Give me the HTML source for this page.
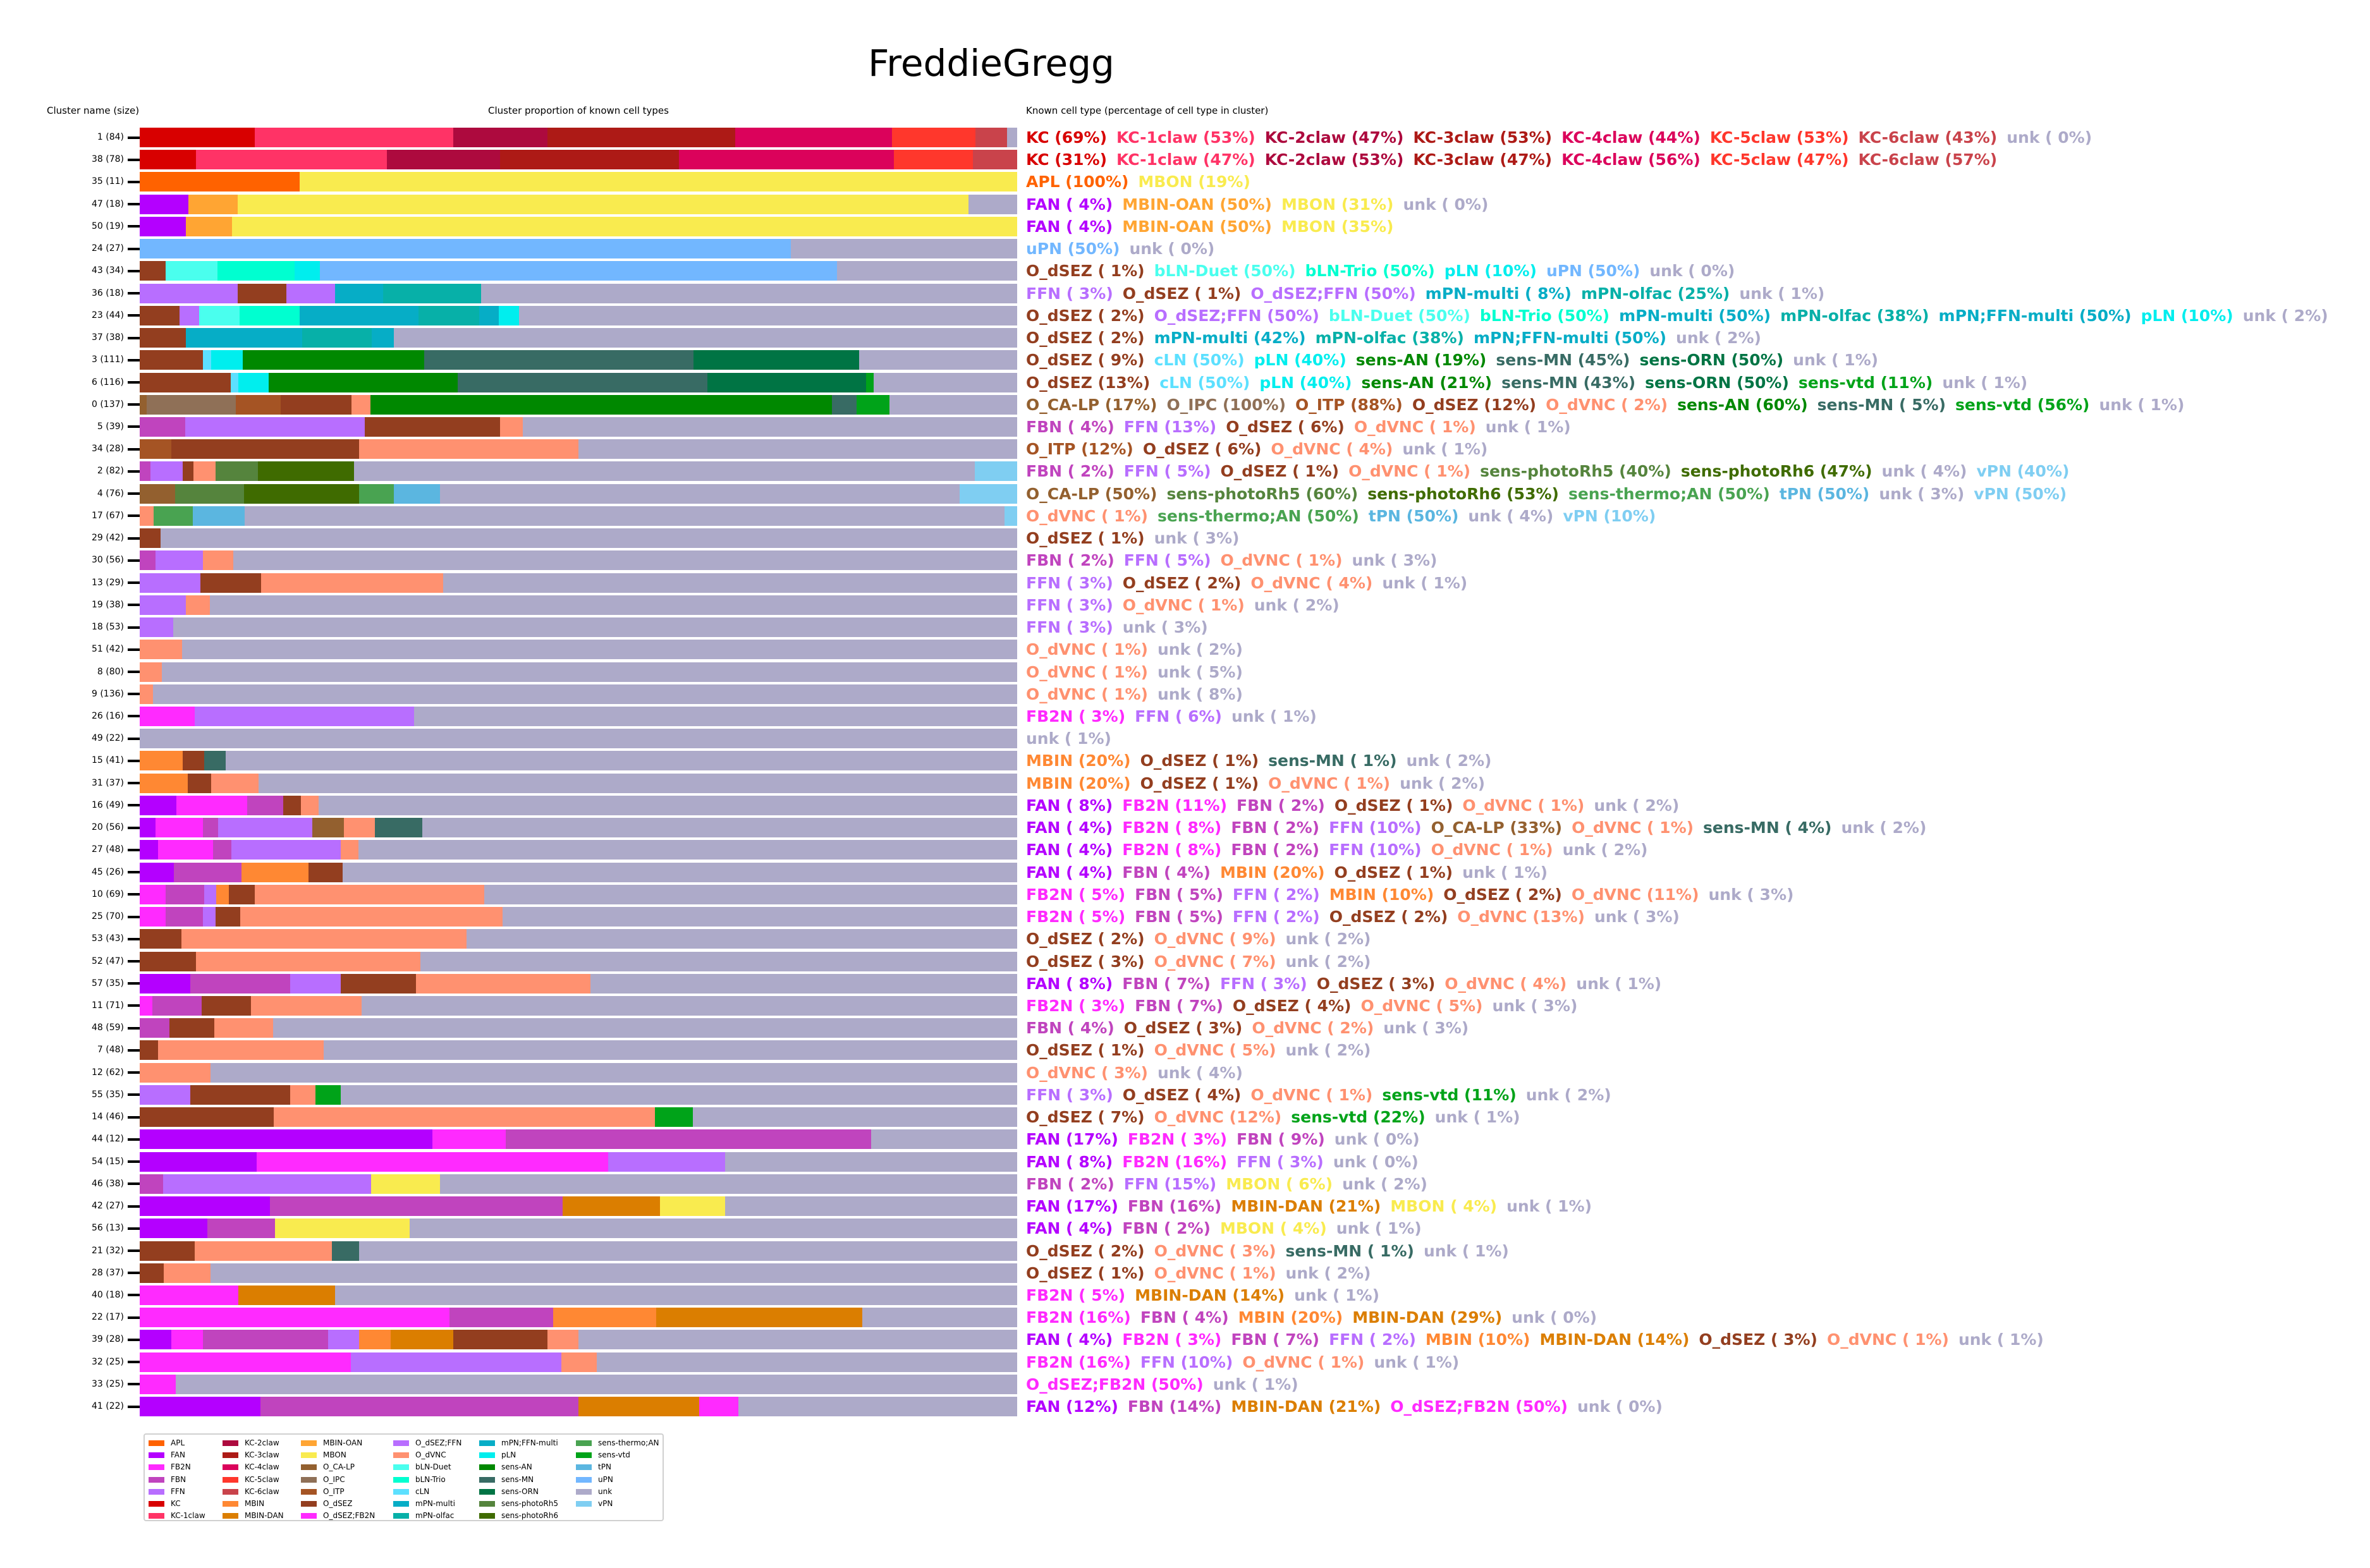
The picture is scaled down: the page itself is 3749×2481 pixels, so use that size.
<!DOCTYPE html>
<html><head><meta charset="utf-8">
<style>
html,body{margin:0;padding:0;background:#fff;}
body{width:3749px;height:2481px;position:relative;overflow:hidden;font-family:"DejaVu Sans","Liberation Sans",sans-serif;}
.title{position:absolute;left:0;width:3136px;top:66px;text-align:center;font-size:58px;color:#000;}
.hdr{position:absolute;font-size:15px;color:#000;white-space:nowrap;top:166px;}
.lbl{position:absolute;left:0;width:196px;text-align:right;font-size:14px;line-height:31px;color:#000;}
.tick{position:absolute;left:202px;width:19px;height:4px;background:#000;}
.bar{position:absolute;left:221px;width:1388px;height:31px;display:flex;}
.bar div{height:100%;}
.t{position:absolute;left:1623px;line-height:31px;font-size:25px;font-weight:bold;white-space:pre;}
.t span{margin-right:15px;}
.legend{position:absolute;left:227px;top:2268px;width:819px;height:135px;border:2px solid #d0d0d0;border-radius:4px;background:#fff;}
.li{position:absolute;font-size:12px;line-height:12px;white-space:nowrap;}
.li b{display:inline-block;width:25px;height:9px;margin-right:10px;vertical-align:-1px;}
</style></head><body>
<div class="title">FreddieGregg</div>
<div class="hdr" style="left:74px">Cluster name (size)</div>
<div class="hdr" style="left:772px">Cluster proportion of known cell types</div>
<div class="hdr" style="left:1623px">Known cell type (percentage of cell type in cluster)</div>
<div id="rows"></div>

<div id="texts">
<div class="t"><span>KC (69%)</span><span>KC-1claw (53%)</span><span>KC-2claw (47%)</span><span>KC-3claw (53%)</span><span>KC-4claw (44%)</span><span>KC-5claw (53%)</span><span>KC-6claw (43%)</span><span>unk ( 0%)</span></div>
<div class="t"><span>KC (31%)</span><span>KC-1claw (47%)</span><span>KC-2claw (53%)</span><span>KC-3claw (47%)</span><span>KC-4claw (56%)</span><span>KC-5claw (47%)</span><span>KC-6claw (57%)</span></div>
<div class="t"><span>APL (100%)</span><span>MBON (19%)</span></div>
<div class="t"><span>FAN ( 4%)</span><span>MBIN-OAN (50%)</span><span>MBON (31%)</span><span>unk ( 0%)</span></div>
<div class="t"><span>FAN ( 4%)</span><span>MBIN-OAN (50%)</span><span>MBON (35%)</span></div>
<div class="t"><span>uPN (50%)</span><span>unk ( 0%)</span></div>
<div class="t"><span>O_dSEZ ( 1%)</span><span>bLN-Duet (50%)</span><span>bLN-Trio (50%)</span><span>pLN (10%)</span><span>uPN (50%)</span><span>unk ( 0%)</span></div>
<div class="t"><span>FFN ( 3%)</span><span>O_dSEZ ( 1%)</span><span>O_dSEZ;FFN (50%)</span><span>mPN-multi ( 8%)</span><span>mPN-olfac (25%)</span><span>unk ( 1%)</span></div>
<div class="t"><span>O_dSEZ ( 2%)</span><span>O_dSEZ;FFN (50%)</span><span>bLN-Duet (50%)</span><span>bLN-Trio (50%)</span><span>mPN-multi (50%)</span><span>mPN-olfac (38%)</span><span>mPN;FFN-multi (50%)</span><span>pLN (10%)</span><span>unk ( 2%)</span></div>
<div class="t"><span>O_dSEZ ( 2%)</span><span>mPN-multi (42%)</span><span>mPN-olfac (38%)</span><span>mPN;FFN-multi (50%)</span><span>unk ( 2%)</span></div>
<div class="t"><span>O_dSEZ ( 9%)</span><span>cLN (50%)</span><span>pLN (40%)</span><span>sens-AN (19%)</span><span>sens-MN (45%)</span><span>sens-ORN (50%)</span><span>unk ( 1%)</span></div>
<div class="t"><span>O_dSEZ (13%)</span><span>cLN (50%)</span><span>pLN (40%)</span><span>sens-AN (21%)</span><span>sens-MN (43%)</span><span>sens-ORN (50%)</span><span>sens-vtd (11%)</span><span>unk ( 1%)</span></div>
<div class="t"><span>O_CA-LP (17%)</span><span>O_IPC (100%)</span><span>O_ITP (88%)</span><span>O_dSEZ (12%)</span><span>O_dVNC ( 2%)</span><span>sens-AN (60%)</span><span>sens-MN ( 5%)</span><span>sens-vtd (56%)</span><span>unk ( 1%)</span></div>
<div class="t"><span>FBN ( 4%)</span><span>FFN (13%)</span><span>O_dSEZ ( 6%)</span><span>O_dVNC ( 1%)</span><span>unk ( 1%)</span></div>
<div class="t"><span>O_ITP (12%)</span><span>O_dSEZ ( 6%)</span><span>O_dVNC ( 4%)</span><span>unk ( 1%)</span></div>
<div class="t"><span>FBN ( 2%)</span><span>FFN ( 5%)</span><span>O_dSEZ ( 1%)</span><span>O_dVNC ( 1%)</span><span>sens-photoRh5 (40%)</span><span>sens-photoRh6 (47%)</span><span>unk ( 4%)</span><span>vPN (40%)</span></div>
<div class="t"><span>O_CA-LP (50%)</span><span>sens-photoRh5 (60%)</span><span>sens-photoRh6 (53%)</span><span>sens-thermo;AN (50%)</span><span>tPN (50%)</span><span>unk ( 3%)</span><span>vPN (50%)</span></div>
<div class="t"><span>O_dVNC ( 1%)</span><span>sens-thermo;AN (50%)</span><span>tPN (50%)</span><span>unk ( 4%)</span><span>vPN (10%)</span></div>
<div class="t"><span>O_dSEZ ( 1%)</span><span>unk ( 3%)</span></div>
<div class="t"><span>FBN ( 2%)</span><span>FFN ( 5%)</span><span>O_dVNC ( 1%)</span><span>unk ( 3%)</span></div>
<div class="t"><span>FFN ( 3%)</span><span>O_dSEZ ( 2%)</span><span>O_dVNC ( 4%)</span><span>unk ( 1%)</span></div>
<div class="t"><span>FFN ( 3%)</span><span>O_dVNC ( 1%)</span><span>unk ( 2%)</span></div>
<div class="t"><span>FFN ( 3%)</span><span>unk ( 3%)</span></div>
<div class="t"><span>O_dVNC ( 1%)</span><span>unk ( 2%)</span></div>
<div class="t"><span>O_dVNC ( 1%)</span><span>unk ( 5%)</span></div>
<div class="t"><span>O_dVNC ( 1%)</span><span>unk ( 8%)</span></div>
<div class="t"><span>FB2N ( 3%)</span><span>FFN ( 6%)</span><span>unk ( 1%)</span></div>
<div class="t"><span>unk ( 1%)</span></div>
<div class="t"><span>MBIN (20%)</span><span>O_dSEZ ( 1%)</span><span>sens-MN ( 1%)</span><span>unk ( 2%)</span></div>
<div class="t"><span>MBIN (20%)</span><span>O_dSEZ ( 1%)</span><span>O_dVNC ( 1%)</span><span>unk ( 2%)</span></div>
<div class="t"><span>FAN ( 8%)</span><span>FB2N (11%)</span><span>FBN ( 2%)</span><span>O_dSEZ ( 1%)</span><span>O_dVNC ( 1%)</span><span>unk ( 2%)</span></div>
<div class="t"><span>FAN ( 4%)</span><span>FB2N ( 8%)</span><span>FBN ( 2%)</span><span>FFN (10%)</span><span>O_CA-LP (33%)</span><span>O_dVNC ( 1%)</span><span>sens-MN ( 4%)</span><span>unk ( 2%)</span></div>
<div class="t"><span>FAN ( 4%)</span><span>FB2N ( 8%)</span><span>FBN ( 2%)</span><span>FFN (10%)</span><span>O_dVNC ( 1%)</span><span>unk ( 2%)</span></div>
<div class="t"><span>FAN ( 4%)</span><span>FBN ( 4%)</span><span>MBIN (20%)</span><span>O_dSEZ ( 1%)</span><span>unk ( 1%)</span></div>
<div class="t"><span>FB2N ( 5%)</span><span>FBN ( 5%)</span><span>FFN ( 2%)</span><span>MBIN (10%)</span><span>O_dSEZ ( 2%)</span><span>O_dVNC (11%)</span><span>unk ( 3%)</span></div>
<div class="t"><span>FB2N ( 5%)</span><span>FBN ( 5%)</span><span>FFN ( 2%)</span><span>O_dSEZ ( 2%)</span><span>O_dVNC (13%)</span><span>unk ( 3%)</span></div>
<div class="t"><span>O_dSEZ ( 2%)</span><span>O_dVNC ( 9%)</span><span>unk ( 2%)</span></div>
<div class="t"><span>O_dSEZ ( 3%)</span><span>O_dVNC ( 7%)</span><span>unk ( 2%)</span></div>
<div class="t"><span>FAN ( 8%)</span><span>FBN ( 7%)</span><span>FFN ( 3%)</span><span>O_dSEZ ( 3%)</span><span>O_dVNC ( 4%)</span><span>unk ( 1%)</span></div>
<div class="t"><span>FB2N ( 3%)</span><span>FBN ( 7%)</span><span>O_dSEZ ( 4%)</span><span>O_dVNC ( 5%)</span><span>unk ( 3%)</span></div>
<div class="t"><span>FBN ( 4%)</span><span>O_dSEZ ( 3%)</span><span>O_dVNC ( 2%)</span><span>unk ( 3%)</span></div>
<div class="t"><span>O_dSEZ ( 1%)</span><span>O_dVNC ( 5%)</span><span>unk ( 2%)</span></div>
<div class="t"><span>O_dVNC ( 3%)</span><span>unk ( 4%)</span></div>
<div class="t"><span>FFN ( 3%)</span><span>O_dSEZ ( 4%)</span><span>O_dVNC ( 1%)</span><span>sens-vtd (11%)</span><span>unk ( 2%)</span></div>
<div class="t"><span>O_dSEZ ( 7%)</span><span>O_dVNC (12%)</span><span>sens-vtd (22%)</span><span>unk ( 1%)</span></div>
<div class="t"><span>FAN (17%)</span><span>FB2N ( 3%)</span><span>FBN ( 9%)</span><span>unk ( 0%)</span></div>
<div class="t"><span>FAN ( 8%)</span><span>FB2N (16%)</span><span>FFN ( 3%)</span><span>unk ( 0%)</span></div>
<div class="t"><span>FBN ( 2%)</span><span>FFN (15%)</span><span>MBON ( 6%)</span><span>unk ( 2%)</span></div>
<div class="t"><span>FAN (17%)</span><span>FBN (16%)</span><span>MBIN-DAN (21%)</span><span>MBON ( 4%)</span><span>unk ( 1%)</span></div>
<div class="t"><span>FAN ( 4%)</span><span>FBN ( 2%)</span><span>MBON ( 4%)</span><span>unk ( 1%)</span></div>
<div class="t"><span>O_dSEZ ( 2%)</span><span>O_dVNC ( 3%)</span><span>sens-MN ( 1%)</span><span>unk ( 1%)</span></div>
<div class="t"><span>O_dSEZ ( 1%)</span><span>O_dVNC ( 1%)</span><span>unk ( 2%)</span></div>
<div class="t"><span>FB2N ( 5%)</span><span>MBIN-DAN (14%)</span><span>unk ( 1%)</span></div>
<div class="t"><span>FB2N (16%)</span><span>FBN ( 4%)</span><span>MBIN (20%)</span><span>MBIN-DAN (29%)</span><span>unk ( 0%)</span></div>
<div class="t"><span>FAN ( 4%)</span><span>FB2N ( 3%)</span><span>FBN ( 7%)</span><span>FFN ( 2%)</span><span>MBIN (10%)</span><span>MBIN-DAN (14%)</span><span>O_dSEZ ( 3%)</span><span>O_dVNC ( 1%)</span><span>unk ( 1%)</span></div>
<div class="t"><span>FB2N (16%)</span><span>FFN (10%)</span><span>O_dVNC ( 1%)</span><span>unk ( 1%)</span></div>
<div class="t"><span>O_dSEZ;FB2N (50%)</span><span>unk ( 1%)</span></div>
<div class="t"><span>FAN (12%)</span><span>FBN (14%)</span><span>MBIN-DAN (21%)</span><span>O_dSEZ;FB2N (50%)</span><span>unk ( 0%)</span></div>
</div>

<div id="labels">
<div class="lbl">1 (84)</div><div class="lbl">38 (78)</div><div class="lbl">35 (11)</div><div class="lbl">47 (18)</div><div class="lbl">50 (19)</div><div class="lbl">24 (27)</div><div class="lbl">43 (34)</div><div class="lbl">36 (18)</div><div class="lbl">23 (44)</div><div class="lbl">37 (38)</div><div class="lbl">3 (111)</div><div class="lbl">6 (116)</div><div class="lbl">0 (137)</div><div class="lbl">5 (39)</div><div class="lbl">34 (28)</div><div class="lbl">2 (82)</div><div class="lbl">4 (76)</div><div class="lbl">17 (67)</div><div class="lbl">29 (42)</div><div class="lbl">30 (56)</div><div class="lbl">13 (29)</div><div class="lbl">19 (38)</div><div class="lbl">18 (53)</div><div class="lbl">51 (42)</div><div class="lbl">8 (80)</div><div class="lbl">9 (136)</div><div class="lbl">26 (16)</div><div class="lbl">49 (22)</div><div class="lbl">15 (41)</div><div class="lbl">31 (37)</div><div class="lbl">16 (49)</div><div class="lbl">20 (56)</div><div class="lbl">27 (48)</div><div class="lbl">45 (26)</div><div class="lbl">10 (69)</div><div class="lbl">25 (70)</div><div class="lbl">53 (43)</div><div class="lbl">52 (47)</div><div class="lbl">57 (35)</div><div class="lbl">11 (71)</div><div class="lbl">48 (59)</div><div class="lbl">7 (48)</div><div class="lbl">12 (62)</div><div class="lbl">55 (35)</div><div class="lbl">14 (46)</div><div class="lbl">44 (12)</div><div class="lbl">54 (15)</div><div class="lbl">46 (38)</div><div class="lbl">42 (27)</div><div class="lbl">56 (13)</div><div class="lbl">21 (32)</div><div class="lbl">28 (37)</div><div class="lbl">40 (18)</div><div class="lbl">22 (17)</div><div class="lbl">39 (28)</div><div class="lbl">32 (25)</div><div class="lbl">33 (25)</div><div class="lbl">41 (22)</div>
</div>

<div class="legend" id="legend">
<div class="li"><b></b>APL</div><div class="li"><b></b>FAN</div><div class="li"><b></b>FB2N</div><div class="li"><b></b>FBN</div><div class="li"><b></b>FFN</div><div class="li"><b></b>KC</div><div class="li"><b></b>KC-1claw</div>
<div class="li"><b></b>KC-2claw</div><div class="li"><b></b>KC-3claw</div><div class="li"><b></b>KC-4claw</div><div class="li"><b></b>KC-5claw</div><div class="li"><b></b>KC-6claw</div><div class="li"><b></b>MBIN</div><div class="li"><b></b>MBIN-DAN</div>
<div class="li"><b></b>MBIN-OAN</div><div class="li"><b></b>MBON</div><div class="li"><b></b>O_CA-LP</div><div class="li"><b></b>O_IPC</div><div class="li"><b></b>O_ITP</div><div class="li"><b></b>O_dSEZ</div><div class="li"><b></b>O_dSEZ;FB2N</div>
<div class="li"><b></b>O_dSEZ;FFN</div><div class="li"><b></b>O_dVNC</div><div class="li"><b></b>bLN-Duet</div><div class="li"><b></b>bLN-Trio</div><div class="li"><b></b>cLN</div><div class="li"><b></b>mPN-multi</div><div class="li"><b></b>mPN-olfac</div>
<div class="li"><b></b>mPN;FFN-multi</div><div class="li"><b></b>pLN</div><div class="li"><b></b>sens-AN</div><div class="li"><b></b>sens-MN</div><div class="li"><b></b>sens-ORN</div><div class="li"><b></b>sens-photoRh5</div><div class="li"><b></b>sens-photoRh6</div>
<div class="li"><b></b>sens-thermo;AN</div><div class="li"><b></b>sens-vtd</div><div class="li"><b></b>tPN</div><div class="li"><b></b>uPN</div><div class="li"><b></b>unk</div><div class="li"><b></b>vPN</div>
</div>

<script>
(function(){
var C={"APL":"#FF6200","FAN":"#B400FF","FB2N":"#FF2AFF","FBN":"#C044BE","FFN":"#B86EFF","KC":"#D80000","KC-1claw":"#FF3366","KC-2claw":"#AD0A3E","KC-3claw":"#AD1A16","KC-4claw":"#DB025B","KC-5claw":"#FF372C","KC-6claw":"#C9434B","MBIN":"#FF8833","MBIN-DAN":"#DB7E00","MBIN-OAN":"#FFA533","MBON":"#F9EB4F","O_CA-LP":"#93602F","O_IPC":"#8F7057","O_ITP":"#A55424","O_dSEZ":"#933E1F","O_dSEZ;FB2N":"#FF2AFF","O_dSEZ;FFN":"#B86EFF","O_dVNC":"#FF9170","bLN-Duet":"#4AFFEE","bLN-Trio":"#00FFD0","cLN":"#5CE0FF","mPN-multi":"#06ADC6","mPN-olfac":"#07B0A8","mPN;FFN-multi":"#06ADC6","pLN":"#00EEEE","sens-AN":"#008800","sens-MN":"#386B64","sens-ORN":"#007444","sens-photoRh5":"#55843D","sens-photoRh6":"#3F6B00","sens-thermo;AN":"#49A351","sens-vtd":"#00A319","tPN":"#5BB6E0","uPN":"#72B7FF","unk":"#ADAAC9","vPN":"#7FCEF2"};
var R=[
"KC 168|KC-1claw 289|KC-2claw 138|KC-3claw 274|KC-4claw 228|KC-5claw 122|KC-6claw 46|unk 15",
"KC 82|KC-1claw 279|KC-2claw 165|KC-3claw 261|KC-4claw 313|KC-5claw 115|KC-6claw 65",
"APL 233|MBON 1047",
"FAN 71|MBIN-OAN 72|MBON 1066|unk 71",
"FAN 67|MBIN-OAN 68|MBON 1145",
"uPN 950|unk 330",
"O_dSEZ 38|bLN-Duet 75|bLN-Trio 113|pLN 37|uPN 754|unk 263",
"FFN 143|O_dSEZ 71|FFN 71|mPN-multi 70|mPN-olfac 143|unk 782",
"O_dSEZ 58|FFN 29|bLN-Duet 59|bLN-Trio 87|mPN-multi 174|mPN-olfac 88|mPN;FFN-multi 29|pLN 29|unk 727",
"O_dSEZ 81|mPN-multi 205|mPN-olfac 122|mPN;FFN-multi 39|unk 1097",
"O_dSEZ 111|cLN 15|pLN 55|sens-AN 320|sens-MN 473|sens-ORN 292|unk 278",
"O_dSEZ 160|cLN 14|pLN 53|sens-AN 332|sens-MN 440|sens-ORN 279|sens-vtd 13|unk 253",
"O_CA-LP 12|O_IPC 157|O_ITP 79|O_dSEZ 125|O_dVNC 33|sens-AN 812|sens-MN 44|sens-vtd 57|unk 225",
"FBN 80|FFN 316|O_dSEZ 238|O_dVNC 40|unk 870",
"O_ITP 56|O_dSEZ 330|O_dVNC 386|unk 772",
"FBN 19|FFN 57|O_dSEZ 19|O_dVNC 38|sens-photoRh5 75|sens-photoRh6 169|unk 1092|vPN 75",
"O_CA-LP 62|sens-photoRh5 122|sens-photoRh6 202|sens-thermo;AN 61|tPN 81|unk 915|vPN 101",
"O_dVNC 24|sens-thermo;AN 69|tPN 92|unk 1337|vPN 22",
"O_dSEZ 37|unk 1507",
"FBN 28|FFN 83|O_dVNC 54|unk 1379",
"FFN 107|O_dSEZ 107|O_dVNC 320|unk 1010",
"FFN 81|O_dVNC 42|unk 1421",
"FFN 59|unk 1485",
"O_dVNC 74|unk 1470",
"O_dVNC 39|unk 1505",
"O_dVNC 23|unk 1521",
"FB2N 97|FFN 386|unk 1061",
"unk 1544",
"MBIN 76|O_dSEZ 38|sens-MN 37|unk 1393",
"MBIN 84|O_dSEZ 42|O_dVNC 83|unk 1335",
"FAN 64|FB2N 125|FBN 64|O_dSEZ 31|O_dVNC 31|unk 1229",
"FAN 28|FB2N 83|FBN 27|FFN 166|O_CA-LP 55|O_dVNC 55|sens-MN 83|unk 1047",
"FAN 32|FB2N 97|FBN 32|FFN 193|O_dVNC 31|unk 1159",
"FAN 60|FBN 119|MBIN 118|O_dSEZ 60|unk 1187",
"FB2N 46|FBN 67|FFN 22|MBIN 22|O_dSEZ 45|O_dVNC 404|unk 938",
"FB2N 46|FBN 65|FFN 22|O_dSEZ 44|O_dVNC 462|unk 905",
"O_dSEZ 73|O_dVNC 502|unk 969",
"O_dSEZ 99|O_dVNC 395|unk 1050",
"FAN 89|FBN 176|FFN 89|O_dSEZ 132|O_dVNC 307|unk 751",
"FB2N 22|FBN 87|O_dSEZ 87|O_dVNC 195|unk 1153",
"FBN 52|O_dSEZ 79|O_dVNC 104|unk 1309",
"O_dSEZ 32|O_dVNC 292|unk 1220",
"O_dVNC 125|unk 1419",
"FFN 89|O_dSEZ 176|O_dVNC 44|sens-vtd 45|unk 1190",
"O_dSEZ 236|O_dVNC 671|sens-vtd 66|unk 571",
"FAN 515|FB2N 129|FBN 643|unk 257",
"FAN 206|FB2N 618|FFN 206|unk 514",
"FBN 41|FFN 366|MBON 121|unk 1016",
"FAN 229|FBN 515|MBIN-DAN 171|MBON 115|unk 514",
"FAN 119|FBN 119|MBON 237|unk 1069",
"O_dSEZ 97|O_dVNC 241|sens-MN 48|unk 1158",
"O_dSEZ 42|O_dVNC 83|unk 1419",
"FB2N 174|MBIN-DAN 170|unk 1200",
"FB2N 545|FBN 183|MBIN 181|MBIN-DAN 362|unk 273",
"FAN 56|FB2N 55|FBN 221|FFN 54|MBIN 56|MBIN-DAN 110|O_dSEZ 166|O_dVNC 54|unk 772",
"FB2N 372|FFN 370|O_dVNC 62|unk 740",
"FB2N 63|unk 1481",
"FAN 212|FBN 560|MBIN-DAN 212|FB2N 69|unk 491"];
var host=document.getElementById('rows');
var labels=document.querySelectorAll('.lbl'),texts=document.querySelectorAll('.t');
for(var i=0;i<R.length;i++){
 var yy=202+i*35.23;
 var b=document.createElement('div');b.className='bar';b.style.top=yy+'px';
 R[i].split('|').forEach(function(s){var k=s.lastIndexOf(' ');var d=document.createElement('div');d.style.flex=s.slice(k+1)+' 0 0';d.style.background=C[s.slice(0,k)];b.appendChild(d);});
 host.appendChild(b);
 var t=document.createElement('div');t.className='tick';t.style.top=(yy+13.5)+'px';host.appendChild(t);
 labels[i].style.top=yy+'px';
 texts[i].style.top=yy+'px';
}
document.querySelectorAll('.t span').forEach(function(s){var n=s.textContent;n=n.slice(0,n.indexOf(' ('));s.style.color=C[n];});
var cx=[6,123,247,393,529,682],ry=[7,26,45,65,84,103,122];
document.querySelectorAll('.li').forEach(function(l,j){var c=Math.floor(j/7),r=j%7;l.style.left=cx[c]+'px';l.style.top=ry[r]+'px';l.querySelector('b').style.background=C[l.textContent];});
})();
</script>
</body></html>
